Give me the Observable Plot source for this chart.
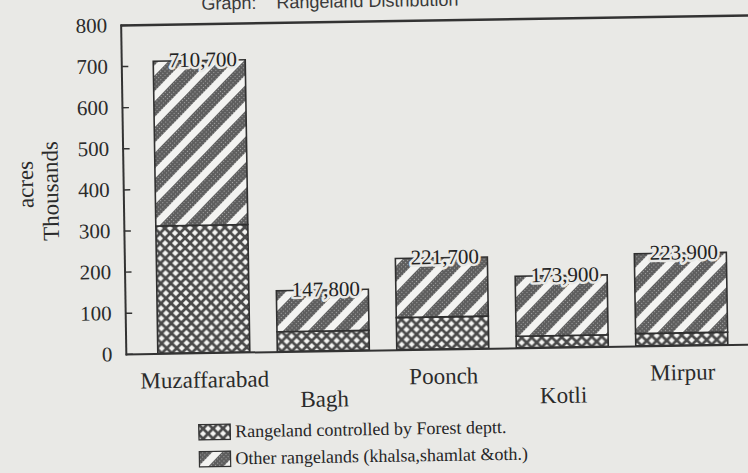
<!DOCTYPE html>
<html>
<head>
<meta charset="utf-8">
<script src="https://cdn.jsdelivr.net/npm/d3@7"></script>
<script src="https://cdn.jsdelivr.net/npm/@observablehq/plot@0.6"></script>
<style>
html,body{margin:0;padding:0;background:#e9e9e6;overflow:hidden;width:748px;height:473px;}
#wrap{position:relative;width:748px;height:473px;transform:rotate(-0.9deg);transform-origin:374px 236px;}
#chart svg{display:block;overflow:visible;max-width:none !important;}
#chart svg text{font-family:"Liberation Serif","Times New Roman","DejaVu Serif",serif;}
#title{position:absolute;left:205px;top:-9px;font-family:"Liberation Sans",Arial,sans-serif;font-size:18px;color:#3a3a3a;white-space:pre;}
#legend{position:absolute;left:195px;top:416px;font-family:"Liberation Serif","Times New Roman","DejaVu Serif",serif;font-size:18px;color:#262626;}
.row{height:27px;display:flex;align-items:center;}
.row svg{margin-right:4px;display:block;}
</style>
</head>
<body>
<div id="wrap">
  <div id="chart"></div>
  <div id="title"></div>
  <div id="legend"></div>
</div>
<script>
// ---- data (thousand acres) ----
const districts = ["Muzaffarabad", "Bagh", "Poonch", "Kotli", "Mirpur"];
const forestDept = [310, 48, 78, 28, 30];
const otherRange = [400.7, 99.8, 143.7, 145.9, 193.9];
const totals = [710.7, 147.8, 221.7, 173.9, 223.9];
const totalLabels = ["710,700", "147,800", "221,700", "173,900", "223,900"];
const seriesNames = ["Rangeland controlled by Forest deptt.", "Other rangelands (khalsa,shamlat &oth.)"];
const yTicks = [0, 100, 200, 300, 400, 500, 600, 700, 800];
const topRowLabels = ["Muzaffarabad", "Poonch", "Mirpur"];
const bottomRowLabels = ["Bagh", "Kotli"];
const titleText = "Graph:    Rangeland Distribution";

const paper = "#e9e9e6";
const ink = "#2b2b2b";
const serif = '"Liberation Serif","Times New Roman","DejaVu Serif",serif';

const rows = districts.flatMap((d, i) => [
  {district: d, type: seriesNames[0], value: forestDept[i]},
  {district: d, type: seriesNames[1], value: otherRange[i]}
]);
const tots = districts.map((d, i) => ({district: d, total: totals[i], label: totalLabels[i]}));

const chart = Plot.plot({
  width: 760,
  height: 412,
  marginLeft: 124,
  marginRight: 0,
  marginTop: 21,
  marginBottom: 62,
  style: {background: "transparent", fontFamily: serif, color: ink, maxWidth: "none"},
  x: {domain: districts, paddingInner: 0.23, paddingOuter: 0.276, align: 0.485, round: false, axis: null, label: null},
  y: {domain: [0, 800], axis: null, label: null},
  color: {domain: seriesNames, range: ["url(#xhatch)", "url(#diag)"]},
  marks: [
    Plot.barY(rows, {x: "district", y: "value", fill: "type", stroke: "#303030", strokeWidth: 1.6}),
    Plot.ruleY([0], {stroke: "#333", strokeWidth: 2}),
    Plot.ruleY([800], {stroke: "#333", strokeWidth: 2.5}),
    Plot.frame({anchor: "left", stroke: "#333", strokeWidth: 2}),
    Plot.axisY(yTicks, {anchor: "left", tickSize: 7, dx: 7, tickFormat: () => "", label: null, stroke: "#333", strokeWidth: 1.4}),
    Plot.axisY(yTicks, {anchor: "left", tickSize: 0, tickPadding: 14, label: null, fontSize: 21, fill: ink}),
    Plot.axisX(topRowLabels, {anchor: "bottom", tickSize: 0, tickPadding: 18, label: null, fontSize: 23, fill: ink}),
    Plot.axisX(bottomRowLabels, {anchor: "bottom", tickSize: 0, tickPadding: 39, label: null, fontSize: 23, fill: ink}),
    Plot.text(["Thousands"], {frameAnchor: "left", textAnchor: "middle", dx: -73, dy: 0, rotate: -90, fontSize: 23, fill: ink}),
    Plot.text(["acres"], {frameAnchor: "left", textAnchor: "middle", dx: -98, dy: -7, rotate: -90, fontSize: 23, fill: ink}),
    Plot.text(tots, {x: "district", y: "total", text: "label", dx: 3, dy: -1, fontSize: 21, fill: "#222", stroke: paper, strokeWidth: 5})
  ]
});

const defs = `
<pattern id="xhatch" patternUnits="userSpaceOnUse" width="10" height="10">
  <rect width="10" height="10" fill="#f3f3f1"/>
  <path d="M-2.5,2.5L2.5,-2.5M0,10L10,0M7.5,12.5L12.5,7.5" stroke="#4a4a4a" stroke-width="2.7"/>
  <path d="M-2.5,7.5L2.5,12.5M0,0L10,10M7.5,-2.5L12.5,2.5" stroke="#4a4a4a" stroke-width="2.7"/>
</pattern>
<pattern id="dots" patternUnits="userSpaceOnUse" width="3" height="3">
  <rect width="3" height="3" fill="#5e5e5e"/>
  <rect x="1" y="1" width="1" height="1" fill="#a8a8a8"/>
</pattern>
<pattern id="diag" patternUnits="userSpaceOnUse" width="18" height="18" patternTransform="rotate(45)">
  <rect width="18" height="18" fill="#f3f3f1"/>
  <rect width="11" height="18" fill="url(#dots)"/>
</pattern>`;
const d = document.createElementNS("http://www.w3.org/2000/svg", "defs");
d.innerHTML = defs;
chart.insertBefore(d, chart.firstChild);
chart.style.maxWidth = "none";
document.getElementById("chart").appendChild(chart);

document.getElementById("title").textContent = titleText;

const legend = document.getElementById("legend");
seriesNames.forEach((name, i) => {
  const row = document.createElement("div");
  row.className = "row";
  const fill = i === 0 ? "url(#xhatch)" : "url(#diag)";
  row.innerHTML = `<svg width="33" height="17"><rect x="0.8" y="0.8" width="31.4" height="15.4" fill="${fill}" stroke="#333" stroke-width="1.4"/></svg><span>${name.replace(/&/g, "&amp;")}</span>`;
  legend.appendChild(row);
});
</script>
</body>
</html>
